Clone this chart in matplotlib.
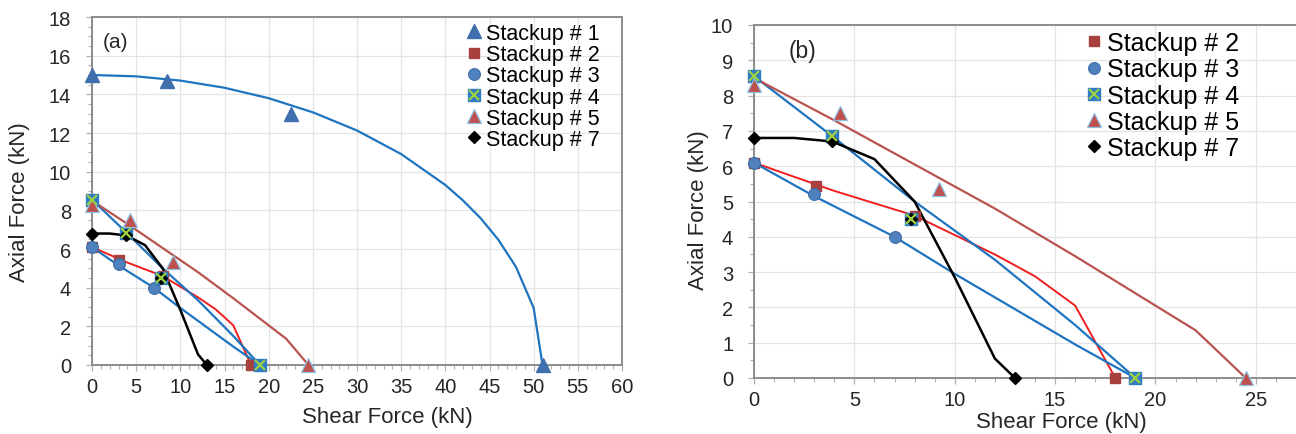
#!/usr/bin/env python3
"""
Axial force vs shear force interaction envelopes for the stackups.
Panel (a) includes stackup 1, panel (b) zooms on the weaker stackups.
Writes out.png in the current folder.
"""
import matplotlib
matplotlib.use('Agg')
import matplotlib.pyplot as plt
from matplotlib.legend_handler import HandlerTuple
from matplotlib.ticker import MultipleLocator

plt.rcParams['font.family'] = ['Liberation Sans', 'DejaVu Sans']

# measured failure points (shear, axial), kN
s1_shear = [0, 8.5, 22.5, 51]
s1_axial = [15, 14.7, 13, 0]
s2_shear = [0, 3.1, 8, 18]
s2_axial = [6.1, 5.45, 4.6, 0]
s3_shear = [0, 3, 7, 19]
s3_axial = [6.1, 5.2, 4.0, 0]
s4_shear = [0, 3.9, 7.8, 19]
s4_axial = [8.55, 6.85, 4.5, 0]
s5_shear = [0, 4.3, 9.2, 24.5]
s5_axial = [8.3, 7.5, 5.35, 0]
s7_shear = [0, 3.9, 7.8, 13]
s7_axial = [6.8, 6.7, 4.5, 0]

# fitted envelopes, kN
fit1_shear = [0, 5, 10, 15, 20, 25, 30, 35, 40, 42, 44, 46, 48, 50, 51]
fit1_axial = [15, 14.93, 14.71, 14.34, 13.80, 13.07, 12.13, 10.91, 9.31, 8.51, 7.59, 6.48, 5.07, 2.95, 0]
fit2_shear = [0, 2, 4, 6, 8, 10, 12, 14, 16, 18]
fit2_axial = [6.1, 5.7, 5.3, 4.95, 4.6, 4.05, 3.5, 2.88, 2.05, 0]
fit3_shear = [0, 3, 7, 10, 13, 16, 19]
fit3_axial = [6.1, 5.15, 4.0, 2.95, 1.95, 0.95, 0]
fit4_shear = [0, 3.9, 8, 12, 16, 19]
fit4_axial = [8.55, 6.85, 5.0, 3.35, 1.5, 0]
fit5_shear = [0, 4, 8, 12, 16, 20, 22, 24.5]
fit5_axial = [8.5, 7.3, 6.05, 4.8, 3.45, 2.05, 1.35, 0]
fit7_shear = [0, 2, 3.9, 6, 8, 10, 12, 13]
fit7_axial = [6.8, 6.8, 6.7, 6.2, 5.0, 2.85, 0.55, 0]

BLUE = '#1f74bf'
TEXT = '#262626'
SPINE = '#8c8c8c'


def draw_fits(ax, with_s1):
    if with_s1:
        ax.plot(fit1_shear, fit1_axial, color=BLUE, lw=1.6, zorder=2)
    ax.plot(fit2_shear, fit2_axial, color='#f01e1e', lw=1.4, zorder=2)
    ax.plot(fit3_shear, fit3_axial, color=BLUE, lw=1.6, zorder=2)
    ax.plot(fit4_shear, fit4_axial, color=BLUE, lw=1.6, zorder=2)
    ax.plot(fit5_shear, fit5_axial, color='#b9534f', lw=1.6, zorder=2)
    ax.plot(fit7_shear, fit7_axial, color='black', lw=1.8, zorder=2)


def draw_points(ax, with_s1, ms):
    kw = dict(linestyle='none', clip_on=False, zorder=4)
    handles = []
    labels = []
    if with_s1:
        h1, = ax.plot(s1_shear, s1_axial, marker='^', ms=ms + 1.5, mfc='#3f6fad',
                      mec='#3f6fad', **kw)
        handles.append(h1)
        labels.append('Stackup # 1')
    h2, = ax.plot(s2_shear, s2_axial, marker='s', ms=ms - 0.5, mfc='#a8413e', mec='#a8413e', **kw)
    h3, = ax.plot(s3_shear, s3_axial, marker='o', ms=ms + 0.5, mfc='#4f81bd', mec='#3d6da8',
                  mew=0.8, **kw)
    h4a, = ax.plot(s4_shear, s4_axial, marker='s', ms=ms, mfc='#2f7cc4', mec='#2f7cc4', **kw)
    h4b, = ax.plot(s4_shear, s4_axial, marker='x', ms=ms - 0.5, mec='#9bd040', mew=1.6,
                   linestyle='none', clip_on=False, zorder=5)
    h5, = ax.plot(s5_shear, s5_axial, marker='^', ms=ms + 1.5, mfc='#c0504d', mec='#8ec0e4',
                  mew=0.9, **kw)
    h7, = ax.plot(s7_shear, s7_axial, marker='D', ms=ms - 2, mfc='black', mec='black', **kw)
    handles += [h2, h3, (h4a, h4b), h5, h7]
    labels += ['Stackup # 2', 'Stackup # 3', 'Stackup # 4', 'Stackup # 5', 'Stackup # 7']
    return handles, labels


def style_axes(ax, xmax, ymax, xmaj, ymaj, ymin_step):
    ax.set_xlim(0, xmax)
    ax.set_ylim(0, ymax)
    ax.xaxis.set_major_locator(MultipleLocator(xmaj))
    ax.xaxis.set_minor_locator(MultipleLocator(1))
    ax.yaxis.set_major_locator(MultipleLocator(ymaj))
    ax.yaxis.set_minor_locator(MultipleLocator(ymin_step))
    ax.grid(True, which='major', color='#e4e4e4', lw=0.9, zorder=0)
    ax.set_axisbelow(True)
    for sp in ax.spines.values():
        sp.set_color(SPINE)
        sp.set_linewidth(1.4)
    ax.tick_params(axis='both', which='both', direction='out', color='#b0b0b0',
                   labelcolor=TEXT, labelsize=14.5)
    ax.tick_params(axis='both', which='major', length=4, width=0.9)
    ax.tick_params(axis='both', which='minor', length=3, width=0.8)
    ax.tick_params(axis='x', which='major', pad=5)
    ax.tick_params(axis='y', which='major', pad=11)


def main():
    fig = plt.figure(figsize=(12.96, 4.35), dpi=100)
    ax_a = fig.add_axes([92 / 1296, 69 / 435, 530 / 1296, 348 / 435])
    ax_b = fig.add_axes([754 / 1296, 56 / 435, 542 / 1296, 353 / 435])
    tuple_handler = {tuple: HandlerTuple(ndivide=1)}

    # panel (a): all stackups
    style_axes(ax_a, 60, 18, 5, 2, 0.5)
    draw_fits(ax_a, True)
    handles, labels = draw_points(ax_a, True, 8)
    ax_a.legend(handles, labels, loc='upper left', bbox_to_anchor=(0.709, 0.983),
                frameon=False, fontsize=15.5, borderpad=0, borderaxespad=0,
                handlelength=0.6, handletextpad=0.25, labelspacing=0.01,
                handler_map=tuple_handler)
    ax_a.text(0.045, 0.931, '(a)', transform=ax_a.transAxes, ha='center', va='center',
              fontsize=15, color=TEXT)
    ax_a.set_xlabel('Shear Force (kN)', fontsize=16, color=TEXT)
    ax_a.set_ylabel('Axial Force (kN)', fontsize=16, color=TEXT)
    ax_a.xaxis.set_label_coords(0.557, -0.1466)
    ax_a.xaxis.label.set_verticalalignment('center')
    ax_a.yaxis.set_label_coords(-0.136, 0.471)
    ax_a.yaxis.label.set_verticalalignment('center')

    # panel (b): without stackup 1
    style_axes(ax_b, 27, 10, 5, 1, 0.5)
    ax_b.spines['right'].set_visible(False)
    draw_fits(ax_b, False)
    handles, labels = draw_points(ax_b, False, 8)
    ax_b.legend(handles, labels, loc='upper left', bbox_to_anchor=(0.614, 0.983),
                frameon=False, fontsize=18, borderpad=0, borderaxespad=0,
                handlelength=0.55, handletextpad=0.25, labelspacing=0.09,
                handler_map=tuple_handler)
    ax_b.text(0.090, 0.929, '(b)', transform=ax_b.transAxes, ha='center', va='center',
              fontsize=16.5, color=TEXT)
    ax_b.set_xlabel('Shear Force (kN)', fontsize=16, color=TEXT)
    ax_b.set_ylabel('Axial Force (kN)', fontsize=16, color=TEXT)
    ax_b.xaxis.set_label_coords(0.568, -0.1246)
    ax_b.xaxis.label.set_verticalalignment('center')
    ax_b.yaxis.set_label_coords(-0.1015, 0.479)
    ax_b.yaxis.label.set_verticalalignment('center')

    fig.savefig('out.png', dpi=100)
    plt.close(fig)
    print('Saved out.png')


if __name__ == '__main__':
    main()
